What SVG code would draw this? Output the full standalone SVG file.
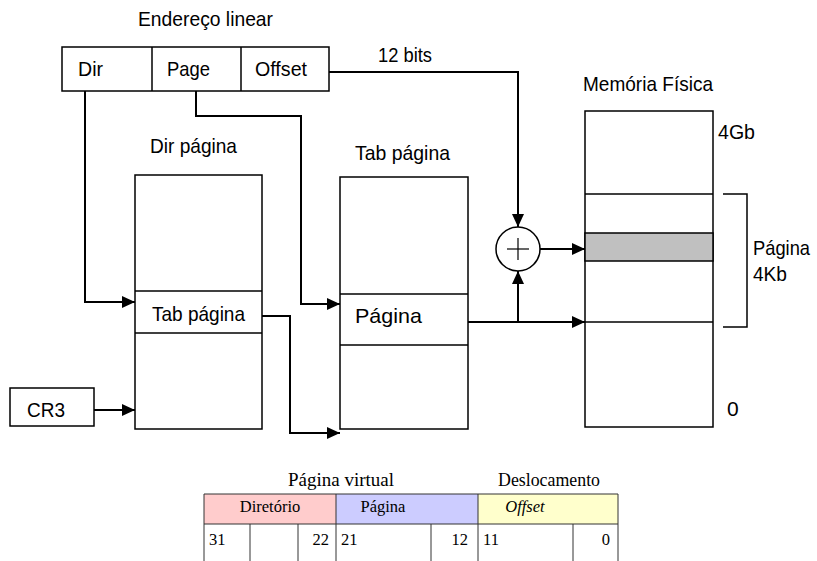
<svg xmlns="http://www.w3.org/2000/svg" width="817" height="561" viewBox="0 0 817 561">
  <style>
    .box { fill: #fff; stroke: #000; stroke-width: 1.5; }
    .sep { stroke: #000; stroke-width: 1.5; fill: none; }
    .wire { stroke: #000; stroke-width: 2; fill: none; }
    .lbl { font-family: "Liberation Sans", Arial, sans-serif; font-size: 21px; fill: #000; }
    .tbl { font-family: "Liberation Serif", "Times New Roman", serif; font-size: 16.5px; fill: #000; }
    .ttl { font-family: "Liberation Serif", "Times New Roman", serif; font-size: 18px; fill: #000; }
    .cell { stroke: #333; stroke-width: 1; }
  </style>
  <defs>
    <marker id="arrow" markerUnits="userSpaceOnUse" markerWidth="13" markerHeight="12" refX="13" refY="6" orient="auto">
      <path d="M0,0 L13,6 L0,12 z" fill="#000"/>
    </marker>
  </defs>
  <rect width="817" height="561" fill="#fff"/>

  <!-- Linear address: Dir | Page | Offset -->
  <g id="linear-address">
    <text class="lbl" x="138" y="26" textLength="135" lengthAdjust="spacingAndGlyphs">Endereço linear</text>
    <rect class="box" x="62" y="47" width="267" height="44"/>
    <line class="sep" x1="152" y1="47" x2="152" y2="91"/>
    <line class="sep" x1="241" y1="47" x2="241" y2="91"/>
    <text class="lbl" x="78" y="76" textLength="25" lengthAdjust="spacingAndGlyphs">Dir</text>
    <text class="lbl" x="167" y="76" textLength="43" lengthAdjust="spacingAndGlyphs">Page</text>
    <text class="lbl" x="255" y="76" textLength="52" lengthAdjust="spacingAndGlyphs">Offset</text>
  </g>

  <!-- CR3 register -->
  <g id="cr3">
    <rect class="box" x="10" y="388" width="84" height="38"/>
    <text class="lbl" x="27" y="417" textLength="38" lengthAdjust="spacingAndGlyphs">CR3</text>
  </g>

  <!-- Page directory -->
  <g id="dir-pagina">
    <text class="lbl" x="150" y="153" textLength="87" lengthAdjust="spacingAndGlyphs">Dir página</text>
    <rect class="box" x="135" y="175" width="127" height="254"/>
    <line class="sep" x1="135" y1="291" x2="262" y2="291"/>
    <line class="sep" x1="135" y1="333" x2="262" y2="333"/>
    <text class="lbl" x="152" y="321" textLength="93" lengthAdjust="spacingAndGlyphs">Tab página</text>
  </g>

  <!-- Page table -->
  <g id="tab-pagina">
    <text class="lbl" x="355" y="160" textLength="95" lengthAdjust="spacingAndGlyphs">Tab página</text>
    <rect class="box" x="340" y="177" width="128" height="252"/>
    <line class="sep" x1="340" y1="294" x2="468" y2="294"/>
    <line class="sep" x1="340" y1="345" x2="468" y2="345"/>
    <text class="lbl" x="355" y="323" textLength="67" lengthAdjust="spacingAndGlyphs">Página</text>
  </g>

  <!-- Adder -->
  <g id="adder">
    <circle cx="518" cy="249" r="22" fill="#fff" stroke="#000" stroke-width="1.5"/>
    <line x1="507" y1="249" x2="529" y2="249" stroke="#000" stroke-width="1.2"/>
    <line x1="518" y1="238" x2="518" y2="260" stroke="#000" stroke-width="1.2"/>
  </g>

  <!-- Physical memory -->
  <g id="memoria-fisica">
    <text class="lbl" x="583" y="91" textLength="130" lengthAdjust="spacingAndGlyphs">Memória Física</text>
    <rect class="box" x="585" y="111" width="128" height="316"/>
    <rect x="585" y="233" width="128" height="28" fill="#c0c0c0" stroke="#000" stroke-width="1.5"/>
    <line class="sep" x1="585" y1="194" x2="713" y2="194"/>
    <line class="sep" x1="585" y1="322" x2="713" y2="322"/>
    <text class="lbl" x="718" y="139" textLength="37" lengthAdjust="spacingAndGlyphs">4Gb</text>
    <text class="lbl" x="727" y="416">0</text>
  </g>

  <!-- 4Kb page bracket -->
  <g id="page-size">
    <path class="sep" d="M723,194 H747 V327 H723"/>
    <text class="lbl" x="753" y="255" textLength="57" lengthAdjust="spacingAndGlyphs">Página</text>
    <text class="lbl" x="753" y="281" textLength="34" lengthAdjust="spacingAndGlyphs">4Kb</text>
  </g>

  <!-- Connectors -->
  <g id="connectors">
    <text class="lbl" x="378" y="62" textLength="54" lengthAdjust="spacingAndGlyphs">12 bits</text>
    <path class="wire" d="M329,72 H518 V227" marker-end="url(#arrow)"/>
    <path class="wire" d="M85,91 V302 H135" marker-end="url(#arrow)"/>
    <path class="wire" d="M196,91 V116 H301 V304 H340" marker-end="url(#arrow)"/>
    <path class="wire" d="M94,410 H135" marker-end="url(#arrow)"/>
    <path class="wire" d="M262,316 H290 V433 H340" marker-end="url(#arrow)"/>
    <path class="wire" d="M468,322 H585" marker-end="url(#arrow)"/>
    <path class="wire" d="M518,322 V271" marker-end="url(#arrow)"/>
    <path class="wire" d="M540,249 H585" marker-end="url(#arrow)"/>
  </g>

  <!-- Bit layout of the linear address -->
  <g id="bit-layout">
    <text class="ttl" x="288" y="486" textLength="106" lengthAdjust="spacingAndGlyphs">Página virtual</text>
    <text class="ttl" x="498" y="486" textLength="102" lengthAdjust="spacingAndGlyphs">Deslocamento</text>
    <rect x="204" y="494" width="132" height="30" fill="#ffcccc"/>
    <rect x="336" y="494" width="142" height="30" fill="#ccccff"/>
    <rect x="478" y="494" width="140" height="30" fill="#ffffcc"/>
    <g class="cell">
      <line x1="204" y1="494" x2="618" y2="494"/>
      <line x1="204" y1="524" x2="618" y2="524"/>
      <line x1="204" y1="494" x2="204" y2="561"/>
      <line x1="336" y1="494" x2="336" y2="561"/>
      <line x1="478" y1="494" x2="478" y2="561"/>
      <line x1="618" y1="494" x2="618" y2="561"/>
      <line x1="250" y1="524" x2="250" y2="561"/>
      <line x1="298" y1="524" x2="298" y2="561"/>
      <line x1="431" y1="524" x2="431" y2="561"/>
      <line x1="573" y1="524" x2="573" y2="561"/>
    </g>
    <text class="tbl" x="270" y="512" text-anchor="middle">Diretório</text>
    <text class="tbl" x="383" y="512" text-anchor="middle">Página</text>
    <text class="tbl" x="525" y="512" text-anchor="middle" font-style="italic">Offset</text>
    <text class="tbl" x="209" y="545">31</text>
    <text class="tbl" x="329" y="545" text-anchor="end">22</text>
    <text class="tbl" x="341" y="545">21</text>
    <text class="tbl" x="468" y="545" text-anchor="end">12</text>
    <text class="tbl" x="483" y="545">11</text>
    <text class="tbl" x="610" y="545" text-anchor="end">0</text>
  </g>
</svg>
